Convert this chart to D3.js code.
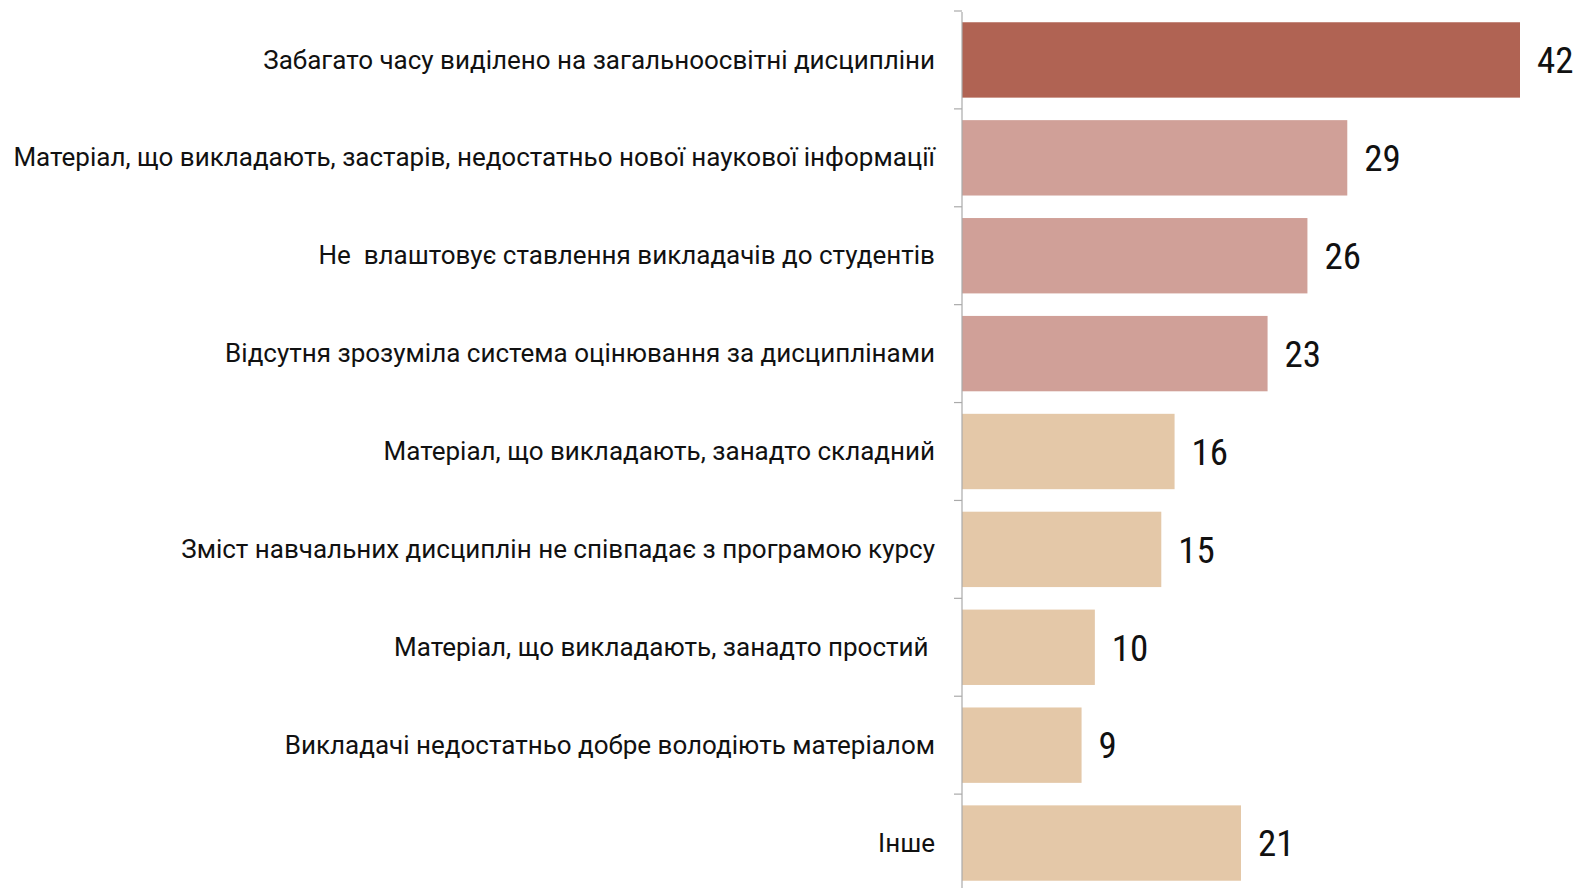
<!DOCTYPE html>
<html>
<head>
<meta charset="utf-8">
<script src="https://cdn.jsdelivr.net/npm/d3@7"></script>
<style>
  body { margin: 0; background: #fff; }
  text { fill: #111; }
  .label { font-family: Roboto, "Noto Sans", sans-serif; }
  .value { font-family: "Roboto Condensed", Roboto, sans-serif; }
</style>
</head>
<body>
<svg id="chart" width="1578" height="888"></svg>
<script>
// categories, top to bottom
var categories = [
  "Забагато часу виділено на загальноосвітні дисципліни",
  "Матеріал, що викладають, застарів, недостатньо нової наукової інформації",
  "Не  влаштовує ставлення викладачів до студентів",
  "Відсутня зрозуміла система оцінювання за дисциплінами",
  "Матеріал, що викладають, занадто складний",
  "Зміст навчальних дисциплін не співпадає з програмою курсу",
  "Матеріал, що викладають, занадто простий ",
  "Викладачі недостатньо добре володіють матеріалом",
  "Інше"
];
var values = [42, 29, 26, 23, 16, 15, 10, 9, 21];
// colour group of each bar: 0 = top, 1 = pink, 2 = beige
var groups = [0, 1, 1, 1, 2, 2, 2, 2, 2];
var groupColors = ["#b06353", "#d0a098", "#e4c8a8"];

var svg = d3.select("#chart");
var axisX = 962;

var x = d3.scaleLinear()
    .domain([0, 42])
    .range([axisX, 1520]);

var y = d3.scaleBand()
    .domain(categories)
    .range([11, 892])
    .paddingInner(0.23)
    .paddingOuter(0.115);

var color = d3.scaleOrdinal().domain([0, 1, 2]).range(groupColors);

svg.selectAll("rect.bar")
  .data(categories)
  .enter().append("rect")
    .attr("class", "bar")
    .attr("x", x(0))
    .attr("y", function(d) { return y(d); })
    .attr("width", function(d, i) { return x(values[i]) - x(0); })
    .attr("height", y.bandwidth())
    .attr("fill", function(d, i) { return color(groups[i]); });

// axis line + ticks between the bands
svg.append("line")
    .attr("x1", axisX).attr("x2", axisX)
    .attr("y1", 12).attr("y2", 888)
    .attr("stroke", "#aaa").attr("stroke-width", 1.2);

svg.selectAll("line.tick")
  .data(categories)
  .enter().append("line")
    .attr("class", "tick")
    .attr("x1", axisX - 8).attr("x2", axisX)
    .attr("y1", function(d) { return y(d) - y.step() * y.paddingInner() / 2; })
    .attr("y2", function(d) { return y(d) - y.step() * y.paddingInner() / 2; })
    .attr("stroke", "#aaa").attr("stroke-width", 1.2);

// category labels
svg.selectAll("text.label")
  .data(categories)
  .enter().append("text")
    .attr("class", "label")
    .attr("x", 935)
    .attr("y", function(d) { return y(d) + y.bandwidth() / 2; })
    .attr("text-anchor", "end")
    .attr("dy", "0.33em")
    .style("white-space", "pre")
    .style("font-size", "26px")
    .text(function(d) { return d; });

// value labels
svg.selectAll("text.value")
  .data(categories)
  .enter().append("text")
    .attr("class", "value")
    .attr("x", function(d, i) { return x(values[i]) + 17; })
    .attr("y", function(d) { return y(d) + y.bandwidth() / 2; })
    .attr("dy", "0.36em")
    .style("font-size", "37px")
    .text(function(d, i) { return values[i]; });
</script>
</body>
</html>
